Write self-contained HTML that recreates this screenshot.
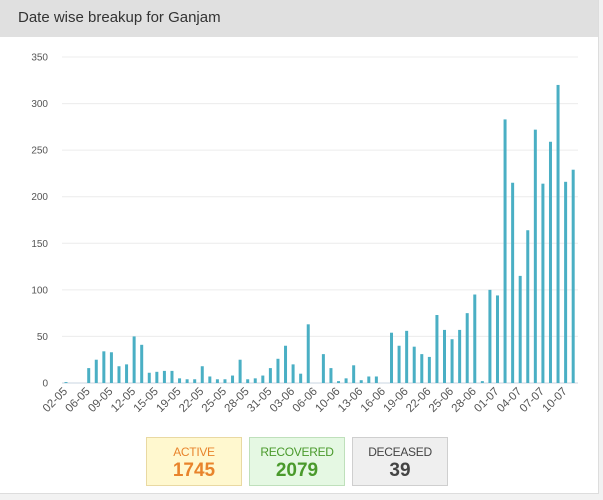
<!DOCTYPE html>
<html><head><meta charset="utf-8"><style>
html,body{margin:0;padding:0;width:603px;height:500px;background:#f2f2f2;overflow:hidden;font-family:"Liberation Sans",sans-serif;}
.card{position:absolute;left:0;top:0;width:598px;height:493px;background:#fff;border-right:1px solid #ddd;border-bottom:1px solid #ddd;}
.hdr{position:absolute;left:0;top:0;width:598px;height:37px;background:#e0e0e0;}
.hdr span{position:absolute;left:18px;top:9px;font-size:15px;color:#333;}
.box{position:absolute;top:437px;width:96px;height:49px;text-align:center;box-sizing:border-box;}
.box .l{font-size:12px;margin-top:7px;letter-spacing:-0.3px;}
.box .n{font-size:19px;font-weight:bold;margin-top:1px;}
</style></head><body>
<div class="card">
<div class="hdr"><span>Date wise breakup for Ganjam</span></div>
<svg width="603" height="500" style="position:absolute;left:0;top:0" id="s"></svg>
<div class="box" style="left:146px;background:#fff8cf;border:1px solid #e9d9a2;color:#e8842c"><div class="l">ACTIVE</div><div class="n">1745</div></div>
<div class="box" style="left:249px;background:#e5f8e3;border:1px solid #bfe0bb;color:#4a9a2c"><div class="l">RECOVERED</div><div class="n">2079</div></div>
<div class="box" style="left:352px;background:#efefef;border:1px solid #cfcfcf;color:#444"><div class="l">DECEASED</div><div class="n">39</div></div>
</div>
<script>
var v=[1,0,0,16,25,34,33,18,20,50,41,11,12,13,13,5,4,4,18,7,4,4,8,25,4,5,8,16,26,40,20,10,63,0,31,16,2,5,19,3,7,7,0,54,40,56,39,31,28,73,57,47,57,75,95,2,100,94,283,215,115,164,272,214,259,320,216,229];
var L=["02-05","06-05","09-05","12-05","15-05","19-05","22-05","25-05","28-05","31-05","03-06","06-06","10-06","13-06","16-06","19-06","22-06","25-06","28-06","01-07","04-07","07-07","10-07"];
var y0=383,k=326/350,x0=66,dx=7.57,h='';
for(var g=0;g<=350;g+=50){var y=y0-g*k;h+='<line x1="62" x2="578" y1="'+y+'" y2="'+y+'" stroke="'+(g?'#ececec':'#c9d6e0')+'" stroke-width="1"/>';h+='<text x="48" y="'+(y+3.5)+'" font-size="10" fill="#555" text-anchor="end">'+g+'</text>';}
for(var i=0;i<v.length;i++){if(!v[i])continue;var hh=v[i]*k;h+='<rect x="'+(x0+i*dx-1.5)+'" y="'+(y0-hh)+'" width="3" height="'+hh+'" fill="#4aafc4"/>';}
for(var j=0;j<L.length;j++){var x=x0+j*3*dx+2;h+='<text transform="translate('+x+',392) rotate(-45)" font-size="11.5" fill="#555" text-anchor="end">'+L[j]+'</text>';}
document.getElementById('s').innerHTML=h;
</script>
</body></html>
